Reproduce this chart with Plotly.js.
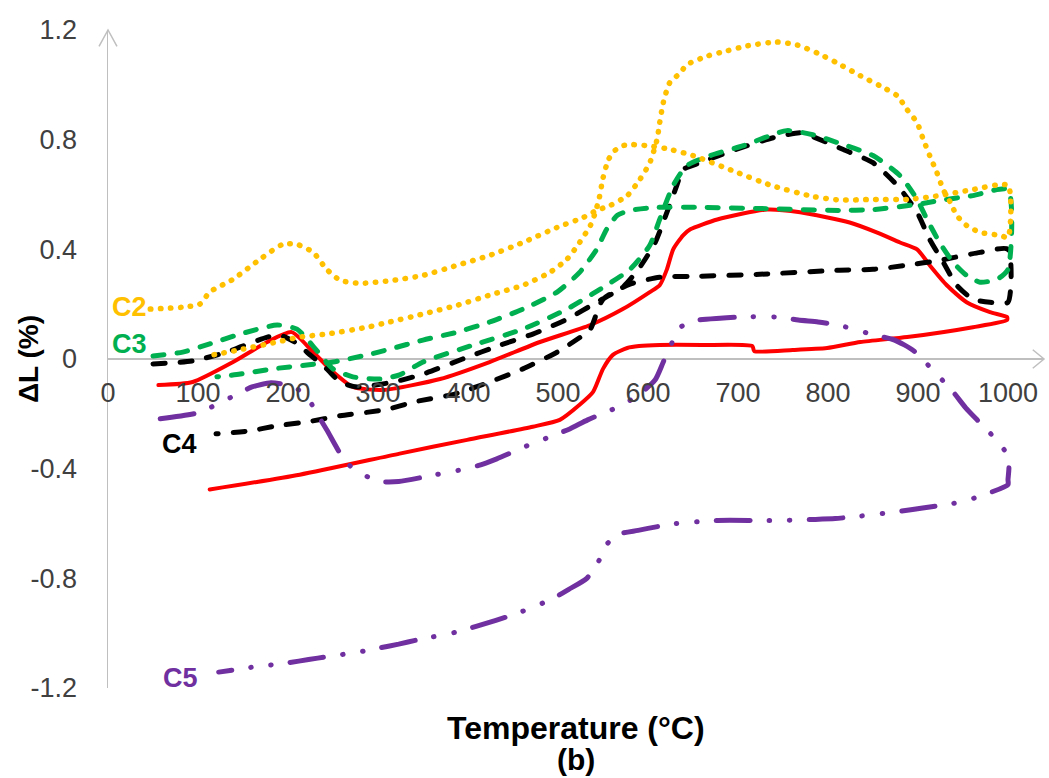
<!DOCTYPE html>
<html>
<head>
<meta charset="utf-8">
<script src="https://cdn.plot.ly/plotly-3.0.1.min.js"></script>
<style>
  html, body { margin: 0; padding: 0; background: #ffffff; }
  #chart { width: 1049px; height: 778px; }
  .js-line { stroke-linecap: round !important; stroke-linejoin: round !important; }
</style>
</head>
<body>
<div id="chart"></div>
<script>
// ---------------- data ----------------
const xTickVals = [0, 100, 200, 300, 400, 500, 600, 700, 800, 900, 1000];
const xTickText = ['0', '100', '200', '300', '400', '500', '600', '700', '800', '900', '1000'];
const yTickVals = [-1.2, -0.8, -0.4, 0, 0.4, 0.8, 1.2];
const yTickText = ['-1.2', '-0.8', '-0.4', '0', '0.4', '0.8', '1.2'];

const seriesNames = ['C1', 'C2', 'C3', 'C4', 'C5'];

// red (unlabelled sample) : heating then cooling
const redTemp = [56, 94, 139, 177, 204, 228, 250, 272, 306, 369, 424, 480, 536, 572, 602, 613, 621, 628, 639, 647, 677, 732, 769, 824, 854, 880, 899, 913, 932, 954, 980, 999,
                 999, 961, 888, 836, 799, 761, 718, 716, 660, 613, 590, 577, 561, 550, 539, 524, 502, 472, 399, 324, 213, 113];
const redDl   = [-0.095, -0.084, -0.011, 0.062, 0.098, 0.025, -0.047, -0.102, -0.113, -0.073, -0.011, 0.062, 0.124, 0.182, 0.244, 0.269, 0.327, 0.4, 0.451, 0.473, 0.509, 0.545, 0.535, 0.498, 0.462, 0.425, 0.4, 0.342, 0.269, 0.207, 0.171, 0.153,
                 0.142, 0.116, 0.08, 0.062, 0.04, 0.033, 0.029, 0.047, 0.051, 0.051, 0.047, 0.04, 0.015, -0.036, -0.12, -0.167, -0.222, -0.247, -0.295, -0.345, -0.422, -0.476];

// C2 (orange dotted)
const c2Temp = [47, 83, 102, 113, 139, 169, 194, 210, 228, 243, 258, 280, 317, 350, 388, 424, 461, 499, 528, 543, 558, 577, 591, 602, 610, 613, 617, 624, 636, 643, 666, 688, 710, 743, 766, 788, 810, 836, 858, 877, 888, 899, 906, 913, 921, 928, 936, 943, 954, 969, 991, 1000,
                1000, 961, 924, 888, 850, 813, 783, 737, 694, 650, 621, 599, 583, 572, 563, 556, 550, 546, 541, 536, 524, 510, 491, 461, 424, 388, 350, 313, 288, 243, 213, 188, 150, 117];
const c2Dl   = [0.182, 0.189, 0.2, 0.244, 0.291, 0.364, 0.418, 0.418, 0.389, 0.327, 0.287, 0.276, 0.287, 0.305, 0.342, 0.378, 0.425, 0.48, 0.516, 0.542, 0.56, 0.596, 0.655, 0.716, 0.8, 0.862, 0.935, 1.007, 1.044, 1.073, 1.105, 1.124, 1.142, 1.156, 1.145, 1.116, 1.08, 1.033, 0.996, 0.96, 0.909, 0.862, 0.8, 0.742, 0.68, 0.618, 0.571, 0.524, 0.487, 0.462, 0.451, 0.444,
                0.633, 0.618, 0.596, 0.582, 0.582, 0.58, 0.593, 0.633, 0.687, 0.742, 0.767, 0.778, 0.782, 0.778, 0.76, 0.727, 0.66, 0.59, 0.53, 0.487, 0.425, 0.364, 0.316, 0.269, 0.233, 0.196, 0.164, 0.135, 0.116, 0.091, 0.08, 0.062, 0.036, 0.015];

// C3 (green dashed)
const c3Temp = [50, 83, 113, 147, 188, 210, 221, 236, 250, 272, 302, 324, 350, 406, 461, 510, 547, 580, 602, 613, 628, 643, 669, 706, 754, 783, 817, 850, 880, 899, 910, 924, 939, 954, 969, 988, 1000,
                1000, 961, 924, 899, 850, 813, 724, 658, 610, 580, 566, 554, 543, 524, 499, 461, 424, 388, 350, 313, 288, 250, 221, 183, 147, 121];
const c3Dl   = [0.011, 0.025, 0.055, 0.091, 0.124, 0.109, 0.073, 0.015, -0.036, -0.065, -0.073, -0.058, -0.011, 0.051, 0.109, 0.182, 0.255, 0.327, 0.415, 0.509, 0.633, 0.705, 0.742, 0.778, 0.833, 0.818, 0.782, 0.742, 0.669, 0.582, 0.509, 0.425, 0.353, 0.305, 0.28, 0.291, 0.327,
                0.618, 0.596, 0.578, 0.564, 0.545, 0.542, 0.549, 0.553, 0.553, 0.542, 0.524, 0.473, 0.4, 0.316, 0.244, 0.182, 0.135, 0.098, 0.069, 0.036, 0.015, -0.011, -0.022, -0.036, -0.055, -0.065];

// C4 (black dashed)
const c4Temp = [50, 94, 132, 147, 177, 191, 213, 221, 243, 258, 277, 317, 350, 394, 436, 472, 510, 543, 572, 591, 608, 621, 632, 639, 658, 694, 739, 769, 780, 817, 850, 877, 899, 913, 928, 943, 961, 980, 1000,
                1000, 969, 924, 888, 850, 813, 724, 658, 613, 580, 550, 536, 528, 499, 461, 424, 386, 341, 308, 258, 222, 187, 158, 120];
const c4Dl   = [-0.018, -0.007, 0.025, 0.044, 0.08, 0.087, 0.051, 0.025, -0.036, -0.084, -0.102, -0.084, -0.055, 0.0, 0.051, 0.091, 0.145, 0.207, 0.262, 0.335, 0.425, 0.535, 0.633, 0.691, 0.716, 0.76, 0.807, 0.825, 0.815, 0.764, 0.716, 0.633, 0.535, 0.436, 0.353, 0.269, 0.218, 0.207, 0.207,
                0.4, 0.389, 0.36, 0.342, 0.327, 0.324, 0.309, 0.302, 0.298, 0.273, 0.218, 0.109, 0.087, 0.025, -0.036, -0.084, -0.127, -0.156, -0.185, -0.207, -0.229, -0.244, -0.262, -0.273];

// C5 (purple dash-dot-dot)
const c5Temp = [58, 100, 120, 142, 160, 181, 203, 220, 231, 243, 264, 281, 303, 323, 364, 388, 411, 432, 471, 491, 513, 533, 572, 591, 608, 617, 627, 636, 656, 680, 702, 744, 767, 789, 811, 852, 874, 894, 910, 939, 953, 969, 986, 997, 1001, 1000,
                1000, 961, 939, 917, 894, 852, 830, 808, 786, 741, 721, 677, 632, 611, 589, 566, 554, 547, 532, 512, 493, 452, 431, 409, 387, 343, 323, 300, 278, 233, 212, 189, 169, 123];
const c5Dl   = [-0.218, -0.196, -0.167, -0.131, -0.102, -0.087, -0.098, -0.131, -0.193, -0.258, -0.375, -0.418, -0.447, -0.447, -0.422, -0.407, -0.389, -0.364, -0.309, -0.284, -0.255, -0.222, -0.167, -0.127, -0.076, -0.011, 0.062, 0.116, 0.142, 0.149, 0.153, 0.153, 0.142, 0.135, 0.124, 0.087, 0.069, 0.033, -0.018, -0.12, -0.178, -0.233, -0.291, -0.338, -0.393, -0.44,
                -0.458, -0.509, -0.527, -0.538, -0.549, -0.567, -0.575, -0.582, -0.585, -0.589, -0.589, -0.589, -0.6, -0.611, -0.625, -0.64, -0.677, -0.727, -0.8, -0.84, -0.876, -0.931, -0.953, -0.975, -0.996, -1.025, -1.04, -1.055, -1.069, -1.091, -1.102, -1.113, -1.12, -1.142];

// series label positions (data space) and texts
const labelText = ['C2', 'C3', 'C4', 'C5'];
const labelX = [24, 24, 79, 80];
const labelY = [0.189, 0.055, -0.31, -1.164];

// ---------------- styling ----------------
const FONT = 'Liberation Sans, Arial, sans-serif';
const COL = { red: '#FF0000', c2: '#FFC000', c3: '#00B050', c4: '#000000', c5: '#7030A0' };
const labelColors = [COL.c2, COL.c3, COL.c4, COL.c5];
const AXIS_GRAY = '#BFBFBF';
const SMOOTH = 0.6;

const traces = [
  { x: redTemp, y: redDl, name: seriesNames[0], mode: 'lines', line: { color: COL.red, width: 4, shape: 'spline', smoothing: SMOOTH } },
  { x: c4Temp, y: c4Dl, name: seriesNames[3], mode: 'lines', line: { color: COL.c4, width: 5, dash: '12px,15px', shape: 'spline', smoothing: SMOOTH } },
  { x: c3Temp, y: c3Dl, name: seriesNames[2], mode: 'lines', line: { color: COL.c3, width: 5, dash: '11px,13px', shape: 'spline', smoothing: SMOOTH } },
  { x: c2Temp, y: c2Dl, name: seriesNames[1], mode: 'lines', line: { color: COL.c2, width: 5.5, dash: '0.5px,9.5px', shape: 'spline', smoothing: SMOOTH } },
  { x: c5Temp, y: c5Dl, name: seriesNames[4], mode: 'lines', line: { color: COL.c5, width: 5, dash: '34px,19px,0.5px,20px,0.5px,19px', shape: 'spline', smoothing: SMOOTH } }
];

const annotations = labelText.map((t, i) => ({
  x: labelX[i], y: labelY[i], xref: 'x', yref: 'y', text: t, showarrow: false,
  xanchor: 'center', yanchor: 'middle',
  font: { family: FONT, size: 27, color: labelColors[i], weight: 'bold' }
}));

annotations.push({
  xref: 'paper', yref: 'paper', x: 0.5, y: 0, yshift: -40, xanchor: 'center', yanchor: 'middle',
  text: 'Temperature (°C)', showarrow: false,
  font: { family: FONT, size: 32, color: '#000000', weight: 'bold' }
});
annotations.push({
  xref: 'paper', yref: 'paper', x: 0.5, y: 0, yshift: -71, xanchor: 'center', yanchor: 'middle',
  text: '(b)', showarrow: false,
  font: { family: FONT, size: 30, color: '#000000', weight: 'bold' }
});
annotations.push({
  xref: 'paper', yref: 'paper', x: 0, y: 0.5, xshift: -80, xanchor: 'center', yanchor: 'middle',
  text: 'ΔL (%)', textangle: -90, showarrow: false,
  font: { family: FONT, size: 28, color: '#000000', weight: 'bold' }
});

const shapes = [
  // arrow head on the top of the y axis
  { type: 'path', xref: 'paper', yref: 'paper', path: 'M -0.0096,0.975 L 0,1 L 0.0096,0.975',
    line: { color: AXIS_GRAY, width: 1.5 } },
  // arrow head on the right end of the x axis
  { type: 'path', xref: 'paper', yref: 'paper', path: 'M 0.988,0.514 L 1,0.5 L 0.988,0.486',
    line: { color: AXIS_GRAY, width: 1.5 } }
];

const layout = {
  width: 1049, height: 778,
  margin: { l: 108, r: 5, t: 30, b: 90, pad: 0 },
  paper_bgcolor: '#ffffff', plot_bgcolor: '#ffffff',
  showlegend: false,
  hovermode: false,
  font: { family: FONT, color: '#404040' },
  xaxis: {
    range: [0, 1040], anchor: 'free', position: 0.5,
    showline: false, zeroline: false, showgrid: false,
    tickmode: 'array', tickvals: xTickVals, ticktext: xTickText,
    ticks: '', ticklabelstandoff: 15,
    tickfont: { family: FONT, size: 27, color: '#404040' }
  },
  yaxis: {
    range: [-1.2, 1.2],
    showline: true, linecolor: AXIS_GRAY, linewidth: 1.5,
    zeroline: true, zerolinecolor: AXIS_GRAY, zerolinewidth: 1.5,
    showgrid: false,
    tickmode: 'array', tickvals: yTickVals, ticktext: yTickText,
    ticks: '', ticklabelstandoff: 24,
    tickfont: { family: FONT, size: 27, color: '#404040' }
  },
  annotations: annotations,
  shapes: shapes
};

Plotly.newPlot('chart', traces, layout, { staticPlot: true, displayModeBar: false });
</script>
</body>
</html>
